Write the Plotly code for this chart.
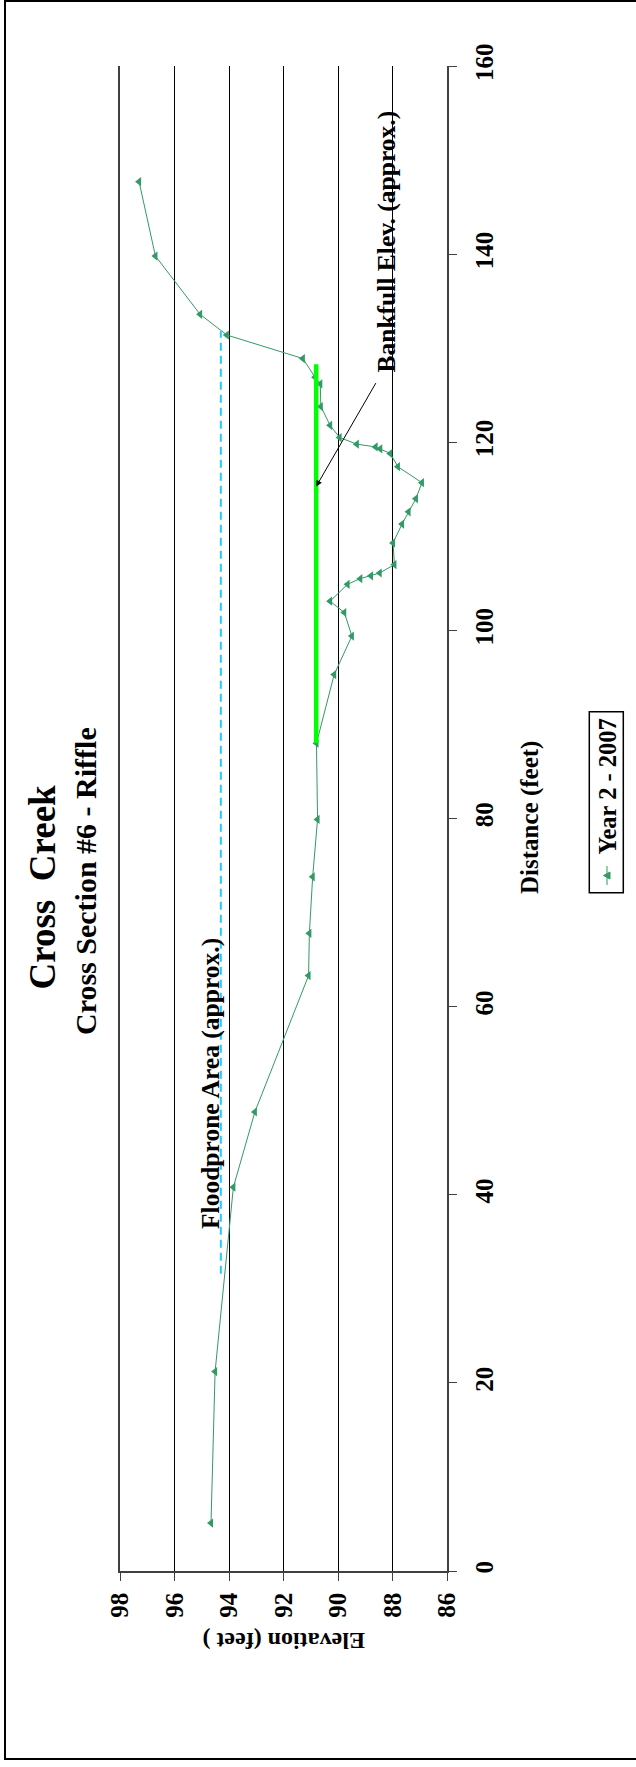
import plotly.graph_objects as go

# Cross-section survey: distance along section (ft) and ground elevation (ft)
distance = [5.1, 21.2, 40.8, 48.8, 63.3, 67.8, 73.8, 79.9, 88.0, 95.3, 99.4,
            101.9, 103.1, 104.9, 105.5, 105.8, 106.1, 107.0, 109.3, 111.3,
            112.6, 114.0, 115.7, 117.4, 118.8, 119.3, 119.5, 119.8, 120.5,
            121.8, 123.8, 126.2, 126.9, 128.9, 131.4, 133.6, 139.8, 147.7]
elevation = [94.66, 94.51, 93.84, 93.05, 91.08, 91.05, 90.93, 90.75, 90.79,
             90.14, 89.49, 89.77, 90.29, 89.65, 89.18, 88.79, 88.47, 87.93,
             87.98, 87.65, 87.41, 87.14, 86.92, 87.80, 88.08, 88.45, 88.62,
             89.31, 89.94, 90.29, 90.63, 90.65, 90.84, 91.29, 94.08, 95.06,
             96.70, 97.30]

# Reference levels
bankfull_elev = 90.80
bankfull_dist = [88.0, 128.3]
floodprone_elev = 94.30
floodprone_dist = [31.6, 131.8]

elev_ticks = [86, 88, 90, 92, 94, 96, 98]
dist_ticks = [0, 20, 40, 60, 80, 100, 120, 140, 160]

W, H = 636, 1767
L, R, T, B = 120, 447, 66, 1571  # plot area in pixels

SERIF = "Liberation Serif"
GREEN = "#339966"


def px(X):
    return (X - L) / (R - L)


def py(Y):
    return (B - Y) / (B - T)


fig = go.Figure()

fig.add_trace(go.Scatter(
    x=[floodprone_elev, floodprone_elev], y=floodprone_dist, mode="lines",
    line=dict(color="#22CCFF", width=2, dash="8px,5px"), showlegend=False,
    hoverinfo="skip"))

fig.add_trace(go.Scatter(
    x=elevation, y=distance, mode="lines+markers", name="Year 2 - 2007",
    line=dict(color=GREEN, width=1),
    marker=dict(symbol="triangle-left", size=8, color=GREEN),
    showlegend=False))

fig.add_trace(go.Scatter(
    x=[bankfull_elev, bankfull_elev], y=bankfull_dist, mode="lines",
    line=dict(color="#00FF00", width=4.5), showlegend=False,
    hoverinfo="skip"))

bold = dict(family=SERIF, color="black", weight="bold")

annotations = [
    dict(text="Cross  Creek", x=px(41.5), y=py(887), textangle=-90,
         font=dict(size=37, **bold)),
    dict(text="Cross Section #6 - Riffle", x=px(85), y=py(881), textangle=-90,
         font=dict(size=30, **bold)),
    dict(text="Distance (feet)", x=px(530), y=py(818), textangle=-90,
         font=dict(size=25, **bold)),
    dict(text="Elevation (feet )", x=px(283.5), y=py(1641), textangle=180,
         font=dict(size=24, **bold)),
    dict(text="Year 2 - 2007", x=px(606.5), y=py(787), textangle=-90,
         font=dict(size=24.5, **bold)),
    dict(text="Floodprone Area (approx.)", x=px(210), y=py(1084), textangle=-90,
         font=dict(size=25.5, **bold)),
    dict(text="Bankfull Elev. (approx.)", x=px(386), y=py(241.5), textangle=-90,
         font=dict(size=25.5, **bold)),
]
for a in annotations:
    a.update(xref="paper", yref="paper", showarrow=False,
             xanchor="center", yanchor="middle")

# Arrow pointing at the bankfull line
annotations.append(dict(
    text=" ", font=dict(size=1), x=bankfull_elev, y=115.3, xref="x", yref="y",
    ax=88.57, ay=126.5, axref="x", ayref="y", showarrow=True,
    arrowhead=2, arrowsize=1.2, arrowwidth=1, arrowcolor="black",
    standoff=0, startstandoff=0))

shapes = [
    # outer frame
    dict(type="rect", xref="paper", yref="paper", x0=px(5), x1=px(645),
         y0=py(1), y1=py(1759), line=dict(color="black", width=2)),
    # legend box
    dict(type="rect", xref="paper", yref="paper", x0=px(589.3), x1=px(623.3),
         y0=py(711.7), y1=py(892.7), line=dict(color="black", width=1.5),
         fillcolor="white", layer="below"),
    # legend sample line
    dict(type="line", xref="paper", yref="paper", x0=px(607), x1=px(607),
         y0=py(866), y1=py(885), line=dict(color=GREEN, width=1)),
    # legend sample marker
    dict(type="path", xref="paper", yref="paper",
         path=f"M {px(603.5)} {py(875.5)} L {px(610)} {py(872)} "
              f"L {px(610)} {py(879)} Z",
         fillcolor=GREEN, line=dict(color=GREEN, width=1)),
]

fig.update_layout(
    width=W, height=H, autosize=False,
    margin=dict(l=L, r=W - R, t=T, b=H - B, pad=0),
    paper_bgcolor="white", plot_bgcolor="white",
    font=dict(family=SERIF, color="black"),
    annotations=annotations, shapes=shapes, showlegend=False,
)

fig.update_xaxes(
    range=[98, 86], tickvals=elev_ticks, ticktext=[str(v) for v in elev_ticks],
    showgrid=True, gridcolor="black", gridwidth=1, zeroline=False,
    showline=True, linecolor="#404040", linewidth=1.5,
    ticks="outside", ticklen=8, tickcolor="#404040", tickwidth=1,
    tickangle=-90, tickfont=dict(size=25, **bold), automargin=False,
    ticklabelstandoff=2,
)
fig.update_yaxes(
    range=[0, 160], tickvals=dist_ticks, side="right",
    showgrid=False, zeroline=False, mirror=True,
    showline=True, linecolor="#404040", linewidth=1.5,
    ticks="outside", ticklen=8, tickcolor="#404040", tickwidth=1,
    tickangle=-90, tickfont=dict(size=25, **bold), automargin=False,
    ticklabelstandoff=6,
)

fig.write_html("out.html")
